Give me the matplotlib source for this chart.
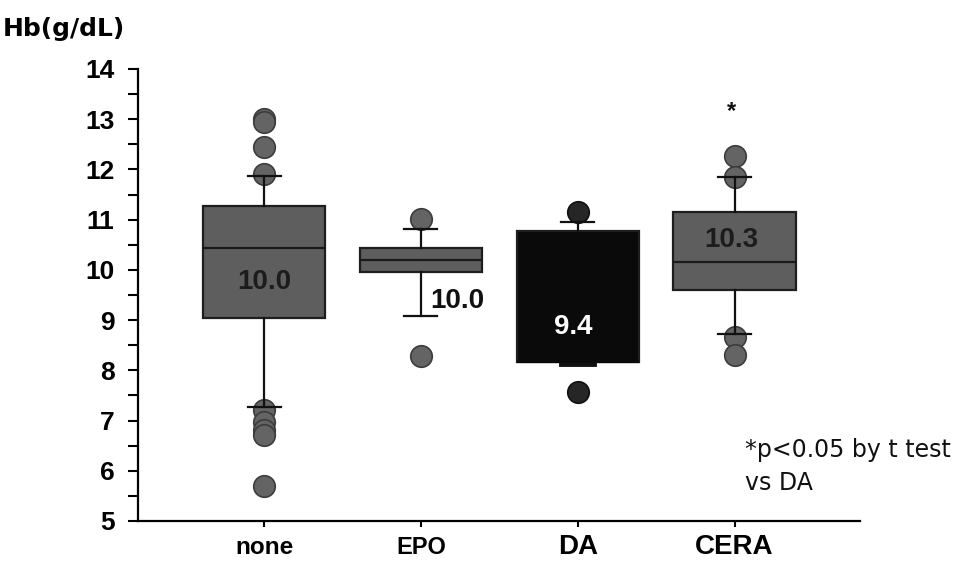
import matplotlib
matplotlib.use("Agg")
import matplotlib.pyplot as plt
from matplotlib.ticker import MultipleLocator

# Hb per treatment group
groups = ['none', 'EPO', 'DA', 'CERA']
q1 = [9.04, 9.96, 8.16, 9.6]
med = [10.44, 10.2, 8.16, 10.16]
q3 = [11.28, 10.44, 10.78, 11.16]
whis_lo = [7.26, 9.08, 8.12, 8.72]
whis_hi = [11.86, 10.82, 10.96, 11.84]
outliers = [
    [13.0, 12.95, 12.44, 11.9, 7.22, 6.98, 6.82, 6.72, 5.7],
    [11.02, 8.28],
    [11.16, 7.56],
    [12.26, 11.84, 8.66, 8.3],
]
mean_labels = ['10.0', '10.0', '9.4', '10.3']

plt.rcParams['font.family'] = ['Liberation Sans', 'DejaVu Sans']

fig = plt.figure(figsize=(9.66, 5.61), dpi=100)
ax = fig.add_axes([138/966, 1-521/561, 722/966, 452/561])

pos = [1, 2, 3, 4]
stats = []
for i in range(4):
    stats.append(dict(label=groups[i], q1=q1[i], med=med[i], q3=q3[i],
                      whislo=whis_lo[i], whishi=whis_hi[i], fliers=outliers[i]))

bp = ax.bxp(stats, positions=pos, widths=0.78, capwidths=0.21, patch_artist=True,
            showfliers=True,
            boxprops=dict(linewidth=1.6, edgecolor='#1e1e1e'),
            medianprops=dict(linewidth=1.6, color='#1a1a1a'),
            whiskerprops=dict(linewidth=1.6, color='#111111'),
            capprops=dict(linewidth=1.6, color='#111111'),
            flierprops=dict(marker='o', markersize=15.5, markerfacecolor='#646464',
                            markeredgecolor='#3c3c3c', markeredgewidth=1.2))

fills = ['#5e5e5e', '#5e5e5e', '#0a0a0a', '#5e5e5e']
for box, c in zip(bp['boxes'], fills):
    box.set_facecolor(c)
bp['medians'][2].set_color('#0a0a0a')
bp['fliers'][2].set_markerfacecolor('#262626')
bp['fliers'][2].set_markeredgecolor('#111111')
bp['caps'][4].set_linewidth(3.5)   # DA lower cap sits on the box edge
for f in bp['fliers']:
    f.set_zorder(1.5)

# value labels inside / next to boxes
lab_x = [1.0, 2.23, 2.97, 3.98]
lab_y = [9.76, 9.38, 8.86, 10.6]
lab_c = ['#1c1c1c', '#111111', 'white', '#1c1c1c']
for t, x, y, c in zip(mean_labels, lab_x, lab_y, lab_c):
    ax.text(x, y, t, ha='center', va='center', fontsize=20, fontweight='bold', color=c)

ax.text(3.98, 13.16, '*', ha='center', va='center', fontsize=17, fontweight='bold',
        color='#111111')

ax.set_xlim(0.196, 4.80)
ax.set_ylim(5, 14)
ax.yaxis.set_major_locator(MultipleLocator(1))
ax.yaxis.set_minor_locator(MultipleLocator(0.5))
ax.spines['top'].set_visible(False)
ax.spines['right'].set_visible(False)
ax.spines['left'].set_linewidth(1.6)
ax.spines['bottom'].set_linewidth(1.6)
ax.tick_params(axis='y', which='both', direction='out', length=7, width=1.5, pad=10,
               labelsize=19)
ax.tick_params(axis='x', direction='out', length=4, width=1.5, pad=20)
for lab in ax.get_yticklabels():
    lab.set_fontweight('bold')

ax.set_xticks(pos)
ax.set_xticklabels(groups)
for lab, s in zip(ax.get_xticklabels(), [17.5, 17, 20, 20]):
    lab.set_fontsize(s)
    lab.set_fontweight('bold')
    lab.set_verticalalignment('baseline')

fig.text(3/966, 1-36/561, 'Hb(g/dL)', fontsize=18, fontweight='bold',
         family='DejaVu Sans', va='baseline')
fig.text(745/966, 1-457/561, '*p<0.05 by t test', fontsize=17,
         family='DejaVu Sans', va='baseline', color='#111111')
fig.text(745/966, 1-490/561, 'vs DA', fontsize=17,
         family='DejaVu Sans', va='baseline', color='#111111')

fig.savefig('out.png', dpi=100)
